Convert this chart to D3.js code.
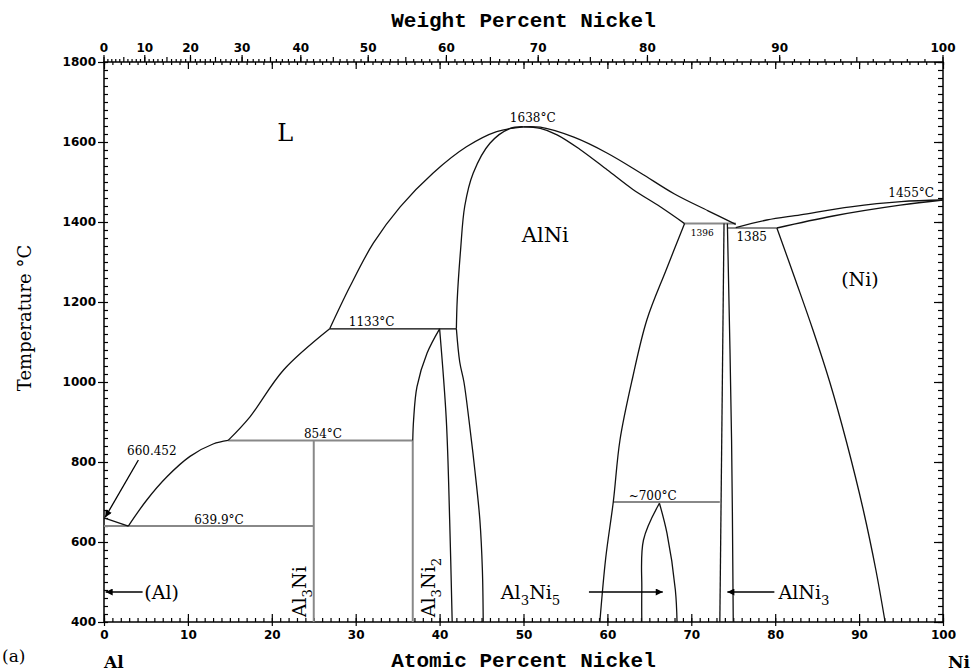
<!DOCTYPE html>
<html>
<head>
<meta charset="utf-8">
<script src="https://cdn.jsdelivr.net/npm/d3@7"></script>
<style>
  body { margin: 0; background: #fff; }
  svg text { fill: #000; }
</style>
</head>
<body>
<div id="chart"></div>
<script>
// Al-Ni phase diagram, boundaries as [at% Ni, T in C]
var width = 974, height = 672;
var margin = {top: 62, right: 31, bottom: 50, left: 104};

var atomicTicks = [0, 10, 20, 30, 40, 50, 60, 70, 80, 90, 100];
var weightTicks = [0, 10, 20, 30, 40, 50, 60, 70, 80, 90, 100];
var tempTicks = [400, 600, 800, 1000, 1200, 1400, 1600, 1800];

// liquidus
var alLiquidus = [[0, 660.452], [2.9, 639.9]];
var liqLow = [[2.9, 639.9], [5.1, 705], [7.5, 763], [10.25, 814], [13, 845], [14.8, 854]];
var liqMid = [[14.8, 854], [17.4, 913], [21.4, 1030], [26.9, 1133]];
var liqHigh = [[26.9, 1133], [29.3, 1238], [32.1, 1347], [35.3, 1438], [39.2, 1522], [43.2, 1588], [46.8, 1626], [50, 1638]];
var liqRight = [[50, 1638], [52, 1637], [56, 1612], [60, 1572], [64, 1522], [68, 1470], [72, 1428], [75.3, 1394]];
var niLiquidus = [[75.3, 1386], [79, 1405], [83, 1418], [89, 1438], [95, 1451], [100, 1455]];

// solidus / solvus
var alniLeftTop = [[50, 1638], [48.4, 1634], [46, 1597], [44, 1522], [43, 1440], [42.5, 1330], [42.1, 1205], [42.0, 1133]];
var alniLeftLow = [[42.0, 1133], [42.4, 1050], [42.9, 1000], [43.5, 905], [44.2, 780], [44.8, 655], [45.1, 530], [45.2, 400]];
var alniRightTop = [[50, 1638], [52, 1634], [54, 1618], [56.7, 1582], [60, 1530], [63, 1482], [66.3, 1438], [69.2, 1396]];
var alniRightLow = [[69.2, 1396], [67.0, 1280], [64.7, 1155], [63, 1010], [61.5, 855], [60.7, 700], [59.8, 560], [59.1, 400]];
var al3ni2Left = [[40.0, 1133], [38.5, 1072], [37.3, 988], [36.9, 905], [36.8, 854]];
var al3ni2Right = [[40.0, 1133], [40.8, 905], [41.2, 655], [41.5, 400]];
var al3ni5Left = [[66.2, 697], [64.3, 605], [64.1, 480], [64.1, 400]];
var al3ni5Right = [[66.2, 697], [67.1, 622], [68.1, 480], [68.3, 400]];
var alni3Left = [[73.9, 1396], [73.4, 400]];
var alni3Right = [[74.3, 1396], [74.8, 855], [75.0, 400]];
var niSolidus = [[80.2, 1385], [86.9, 1415], [94.9, 1442], [100, 1455]];
var niSolvus = [[80.2, 1385], [82.5, 1250], [84.5, 1130], [86.5, 1000], [88.5, 850], [90.5, 680], [92, 530], [93.1, 400]];

// straight lines: isotherms and line compounds
var greyLines = [
  [[0, 639.9], [25, 639.9]],
  [[14.8, 854], [36.8, 854]],
  [[25, 854], [25, 400]],
  [[36.8, 854], [36.8, 400]],
  [[60.7, 700], [73.4, 700]],
  [[69.2, 1396], [75.3, 1396]],
  [[74.3, 1385], [80.2, 1385]]
];
var blackLines = [[[26.9, 1133], [42.0, 1133]]];

// arrows [from, to]
var arrows = [
  [[4.1, 805], [0.15, 662]],
  [[4.6, 475], [0.2, 475]],
  [[57.8, 475], [66.6, 475]],
  [[79.9, 475], [74.3, 475]]
];

// text labels: [at%, T, parts, size, anchor]
var labels = [
  [21.6, 1603, [["L", 0]], 24, "middle"],
  [52.6, 1350, [["AlNi", 0]], 21, "middle"],
  [90.1, 1240, [["(Ni)", 0]], 19, "middle"],
  [51.1, 1650, [["1638°C", 0]], 12, "middle"],
  [31.9, 1140, [["1133°C", 0]], 12, "middle"],
  [26.1, 860, [["854°C", 0]], 12, "middle"],
  [13.7, 645, [["639.9°C", 0]], 12, "middle"],
  [5.7, 817, [["660.452", 0]], 12, "middle"],
  [65.4, 705, [["~700°C", 0]], 12, "middle"],
  [71.3, 1364, [["1396", 0]], 9, "middle"],
  [77.2, 1352, [["1385", 0]], 12, "middle"],
  [96.2, 1463, [["1455°C", 0]], 12, "middle"],
  [4.8, 458, [["(Al)", 0]], 19, "start"],
  [47.3, 458, [["Al", 0], ["3", 1], ["Ni", 0], ["5", 1]], 19, "start"],
  [80.4, 458, [["AlNi", 0], ["3", 1]], 19, "start"]
];
var rotLabels = [
  [24.1, 412, [["Al", 0], ["3", 1], ["Ni", 0]], 19],
  [39.5, 412, [["Al", 0], ["3", 1], ["Ni", 0], ["2", 1]], 19]
];

var x = d3.scaleLinear().domain([0, 100]).range([margin.left, width - margin.right]);
var y = d3.scaleLinear().domain([400, 1800]).range([height - margin.bottom, margin.top]);

// weight % -> atomic % for the top axis
var AL = 26.9815, NI = 58.6934;
function wtToAt(w) {
  var a = w / NI, b = (100 - w) / AL;
  return 100 * a / (a + b);
}

var svg = d3.select("#chart").append("svg")
  .attr("width", width).attr("height", height)
  .style("font-family", "'DejaVu Serif', serif");

svg.append("defs").append("marker")
  .attr("id", "arrow")
  .attr("viewBox", "0 0 10 10")
  .attr("refX", 10).attr("refY", 5)
  .attr("markerWidth", 9).attr("markerHeight", 7)
  .attr("markerUnits", "userSpaceOnUse")
  .attr("orient", "auto")
  .append("path").attr("d", "M0,0L10,5L0,10z").attr("fill", "#000");

var line = d3.line().x(function(d) { return x(d[0]); }).y(function(d) { return y(d[1]); });
var curve = d3.line().curve(d3.curveCatmullRom.alpha(0.5))
  .x(function(d) { return x(d[0]); }).y(function(d) { return y(d[1]); });

// ---- axes ----
var tickFont = "'DejaVu Sans', sans-serif";

function styleAxis(g) {
  g.select(".domain").remove();
  g.selectAll("line").attr("stroke", "#000").attr("stroke-width", 1.2);
  g.selectAll("text").style("font-family", tickFont).style("font-size", "12px").style("font-weight", "bold");
}

var yb = height - margin.bottom;
// bottom: atomic percent
svg.append("g").attr("transform", "translate(0," + yb + ")")
  .call(d3.axisBottom(x).tickValues(d3.range(0, 101, 1)).tickSize(-4).tickSizeOuter(0).tickFormat(""))
  .call(styleAxis);
svg.append("g").attr("transform", "translate(0," + yb + ")")
  .call(d3.axisBottom(x).tickValues(atomicTicks).tickSize(4).tickSizeOuter(0).tickPadding(4))
  .call(styleAxis);
svg.append("g").attr("transform", "translate(0," + yb + ")")
  .call(d3.axisBottom(x).tickValues(atomicTicks).tickSize(-8).tickSizeOuter(0).tickFormat(""))
  .call(styleAxis);

// top: atomic ticks inward
svg.append("g").attr("transform", "translate(0," + margin.top + ")")
  .call(d3.axisTop(x).tickValues(d3.range(0, 101, 1)).tickSize(-3).tickSizeOuter(0).tickFormat(""))
  .call(styleAxis);
svg.append("g").attr("transform", "translate(0," + margin.top + ")")
  .call(d3.axisTop(x).tickValues(atomicTicks).tickSize(-7).tickSizeOuter(0).tickFormat(""))
  .call(styleAxis);

// top: weight ticks outward
var topG = svg.append("g");
topG.selectAll("line.wminor").data(d3.range(0, 101, 1)).join("line")
  .attr("x1", function(d) { return x(wtToAt(d)); }).attr("x2", function(d) { return x(wtToAt(d)); })
  .attr("y1", margin.top).attr("y2", function(d) { return margin.top - (d % 5 === 0 ? 5 : 3); })
  .attr("stroke", "#000").attr("stroke-width", 1.2);
topG.selectAll("line.wmajor").data(weightTicks).join("line")
  .attr("x1", function(d) { return x(wtToAt(d)); }).attr("x2", function(d) { return x(wtToAt(d)); })
  .attr("y1", margin.top).attr("y2", margin.top - 7)
  .attr("stroke", "#000").attr("stroke-width", 1.2);
topG.selectAll("text").data(weightTicks).join("text")
  .attr("x", function(d) { return x(wtToAt(d)); }).attr("y", margin.top - 10)
  .attr("text-anchor", "middle")
  .style("font-family", tickFont).style("font-size", "12px").style("font-weight", "bold")
  .text(function(d) { return d; });

// left: temperature
svg.append("g").attr("transform", "translate(" + margin.left + ",0)")
  .call(d3.axisLeft(y).tickValues(d3.range(400, 1801, 20)).tickSize(-4).tickSizeOuter(0).tickFormat(""))
  .call(styleAxis);
svg.append("g").attr("transform", "translate(" + margin.left + ",0)")
  .call(d3.axisLeft(y).tickValues(tempTicks).tickSize(6).tickSizeOuter(0).tickPadding(2).tickFormat(d3.format("d")))
  .call(styleAxis);

// right
var xr = width - margin.right;
svg.append("g").attr("transform", "translate(" + xr + ",0)")
  .call(d3.axisRight(y).tickValues(d3.range(400, 1801, 20)).tickSize(-5).tickSizeOuter(0).tickFormat(""))
  .call(styleAxis);
svg.append("g").attr("transform", "translate(" + xr + ",0)")
  .call(d3.axisRight(y).tickValues(tempTicks).tickSize(-9).tickSizeOuter(0).tickFormat(""))
  .call(styleAxis);

// frame
svg.append("rect")
  .attr("x", margin.left).attr("y", margin.top)
  .attr("width", xr - margin.left).attr("height", yb - margin.top)
  .attr("fill", "none").attr("stroke", "#000").attr("stroke-width", 1.5);

// ---- phase boundaries ----
var plot = svg.append("g");
greyLines.forEach(function(d) {
  plot.append("path").attr("d", line(d)).attr("fill", "none")
    .attr("stroke", "#888").attr("stroke-width", 2);
});
blackLines.forEach(function(d) {
  plot.append("path").attr("d", line(d)).attr("fill", "none")
    .attr("stroke", "#000").attr("stroke-width", 1.3);
});

var curves = [alLiquidus, liqLow, liqMid, liqHigh, liqRight, niLiquidus,
  alniLeftTop, alniLeftLow, alniRightTop, alniRightLow,
  al3ni2Left, al3ni2Right, al3ni5Left, al3ni5Right,
  alni3Left, alni3Right, niSolidus, niSolvus];
curves.forEach(function(d) {
  plot.append("path").attr("d", curve(d)).attr("fill", "none")
    .attr("stroke", "#111").attr("stroke-width", 1.3);
});

arrows.forEach(function(d) {
  plot.append("path").attr("d", line(d)).attr("fill", "none")
    .attr("stroke", "#000").attr("stroke-width", 1.3)
    .attr("marker-end", "url(#arrow)");
});

// ---- labels ----
function rich(t, parts, size) {
  var shifted = false;
  parts.forEach(function(p) {
    var ts = t.append("tspan").text(p[0]);
    if (p[1] && !shifted) { ts.attr("dy", size * 0.3).attr("font-size", size * 0.7); shifted = true; }
    else if (!p[1] && shifted) { ts.attr("dy", -size * 0.3); shifted = false; }
    else if (p[1]) { ts.attr("font-size", size * 0.7); }
  });
}

labels.forEach(function(d) {
  var t = plot.append("text")
    .attr("x", x(d[0])).attr("y", y(d[1]))
    .attr("text-anchor", d[4])
    .attr("font-size", d[3]);
  rich(t, d[2], d[3]);
});
rotLabels.forEach(function(d) {
  var t = plot.append("text")
    .attr("transform", "translate(" + x(d[0]) + "," + y(d[1]) + ") rotate(-90)")
    .attr("text-anchor", "start")
    .attr("font-size", d[3]);
  rich(t, d[2], d[3]);
});

// axis titles
var mono = "'Liberation Mono', 'DejaVu Sans Mono', monospace";
svg.append("text").attr("x", x(50)).attr("y", 27)
  .attr("text-anchor", "middle").style("font-family", mono)
  .style("font-size", "21px").style("font-weight", "bold")
  .text("Weight Percent Nickel");
svg.append("text").attr("x", x(50)).attr("y", 667)
  .attr("text-anchor", "middle").style("font-family", mono)
  .style("font-size", "21px").style("font-weight", "bold")
  .text("Atomic Percent Nickel");
svg.append("text")
  .attr("transform", "translate(31," + y(1160) + ") rotate(-90)")
  .attr("text-anchor", "middle").style("font-size", "18px")
  .text("Temperature °C");
svg.append("text").attr("x", x(0)).attr("y", 668).attr("text-anchor", "start")
  .style("font-size", "17px").style("font-weight", "bold").text("Al");
svg.append("text").attr("x", 970).attr("y", 668).attr("text-anchor", "end")
  .style("font-size", "17px").style("font-weight", "bold").text("Ni");
svg.append("text").attr("x", 2).attr("y", 662)
  .style("font-size", "17px").text("(a)");
</script>
</body>
</html>
